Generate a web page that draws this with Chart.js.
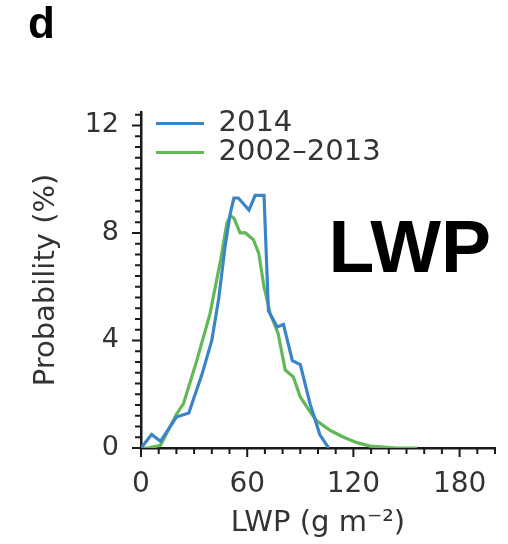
<!DOCTYPE html>
<html>
<head>
<meta charset="utf-8">
<script src="https://cdn.jsdelivr.net/npm/chart.js@4"></script>
<style>
  html, body { margin: 0; padding: 0; background: #fff; }
</style>
</head>
<body>
<canvas id="lwpChart" width="508" height="544"></canvas>
<script>
// LWP (g m-2) and probability (%)
const lwp2014 = [0, 6, 11, 20, 27, 34.5, 40, 44, 47.5, 50.5, 52.5, 55, 61, 64.5, 69.5, 72, 77, 80.5, 85.5, 90, 95.5, 101, 106];
const prob2014 = [0, 0.5, 0.25, 1.15, 1.3, 2.75, 4.0, 5.6, 7.5, 8.75, 9.3, 9.3, 8.85, 9.4, 9.4, 5.1, 4.5, 4.6, 3.25, 3.1, 1.65, 0.5, 0];
const lwpClim = [0, 4, 11, 20, 24, 31.5, 39, 45, 48.5, 50.5, 52.5, 56, 59, 63.5, 66.5, 69.5, 73, 77.5, 81.5, 86, 90, 96.5, 99.5, 107, 114.5, 122, 129.5, 144.5, 156];
const probClim = [0, 0, 0.1, 1.25, 1.65, 3.25, 5.0, 7.0, 8.35, 8.65, 8.55, 8.0, 8.0, 7.75, 7.25, 6.0, 5.0, 4.25, 2.9, 2.65, 1.9, 1.25, 1.0, 0.65, 0.4, 0.2, 0.07, 0, 0];
const xTicks = [0, 60, 120, 180];
const yTicks = [0, 4, 8, 12];

const toPoints = (xs, ys) => xs.map((v, i) => ({ x: v, y: ys[i] }));

// small outward tick marks, major and minor
const axisTicks = {
  id: "axisTicks",
  afterDraw(chart) {
    const { ctx, chartArea, scales } = chart;
    ctx.save();
    ctx.strokeStyle = "#1a1a1a";
    ctx.lineWidth = 2;
    ctx.beginPath();
    for (let v = 0; v <= 200; v += 10) {
      const px = scales.x.getPixelForValue(v);
      const len = xTicks.includes(v) ? 9 : 6;
      ctx.moveTo(px, chartArea.bottom);
      ctx.lineTo(px, chartArea.bottom + len);
    }
    for (let i = 0; i <= 31; i++) {
      const py = scales.y.getPixelForValue(i * 0.4);
      const len = i % 10 === 0 ? 9 : 6;
      ctx.moveTo(chartArea.left, py);
      ctx.lineTo(chartArea.left - len, py);
    }
    ctx.stroke();
    ctx.restore();
  },
};

// panel letter and big variable label
const panelText = {
  id: "panelText",
  afterDraw(chart) {
    const { ctx, chartArea } = chart;
    ctx.save();
    ctx.fillStyle = "#000";
    ctx.textBaseline = "alphabetic";
    ctx.font = 'bold 44px "Liberation Sans", Arial, sans-serif';
    ctx.fillText("d", 28, 38);
    ctx.font = 'bold 75px "Liberation Sans", Arial, sans-serif';
    ctx.textAlign = "right";
    ctx.fillText("LWP", chartArea.right - 4, chartArea.top + 160);
    ctx.restore();
  },
};

// keep the legend inside the plot, top left
const legendPlace = {
  id: "legendPlace",
  beforeDraw(chart) {
    const lg = chart.legend;
    const ca = chart.chartArea;
    lg.left = ca.left + 15;
    lg.top = ca.top - 3;
    lg.right = ca.right;
    lg.bottom = ca.bottom;
  },
};

const titleFont = { family: "DejaVu Sans", size: 29 };

new Chart(document.getElementById("lwpChart"), {
  type: "line",
  data: {
    datasets: [
      {
        label: "2014",
        data: toPoints(lwp2014, prob2014),
        borderColor: "#3c84c8",
        backgroundColor: "#3c84c8",
        borderWidth: 3.2,
        pointRadius: 0,
        tension: 0,
      },
      {
        label: "2002\u20132013",
        data: toPoints(lwpClim, probClim),
        borderColor: "#62b857",
        backgroundColor: "#62b857",
        borderWidth: 3.2,
        pointRadius: 0,
        tension: 0,
      },
    ],
  },
  options: {
    responsive: false,
    animation: false,
    layout: { padding: { top: 112, right: 13, left: 0, bottom: 0 } },
    plugins: {
      legend: {
        position: "chartArea",
        align: "start",
        labels: {
          usePointStyle: true,
          pointStyle: "line",
          pointStyleWidth: 48,
          padding: 0,
          color: "#333",
          font: { family: "DejaVu Sans", size: 29 },
        },
      },
      tooltip: { enabled: false },
    },
    scales: {
      x: {
        type: "linear",
        min: 0,
        max: 200,
        afterBuildTicks: (s) => { s.ticks = xTicks.map((v) => ({ value: v })); },
        afterFit: (s) => { s.height = 96; },
        grid: { display: false, drawTicks: false },
        border: { color: "#1a1a1a", width: 2.5 },
        ticks: { font: { family: "DejaVu Sans", size: 28 }, color: "#333", padding: 20, maxRotation: 0 },
        title: {
          display: true,
          text: "LWP (g m\u207B\u00B2)",
          font: titleFont,
          color: "#333",
          padding: { top: 0, bottom: 3 },
        },
      },
      y: {
        min: 0,
        max: 12.5,
        afterBuildTicks: (s) => { s.ticks = yTicks.map((v) => ({ value: v })); },
        afterFit: (s) => { s.width = 141; },
        grid: { display: false, drawTicks: false },
        border: { color: "#1a1a1a", width: 2.5 },
        ticks: { font: { family: "DejaVu Sans", size: 27 }, color: "#333", padding: 22 },
        title: {
          display: true,
          text: "Probability (%)",
          font: titleFont,
          color: "#333",
          padding: { top: 29, bottom: 0 },
        },
      },
    },
  },
  plugins: [axisTicks, panelText, legendPlace],
});
</script>
</body>
</html>
